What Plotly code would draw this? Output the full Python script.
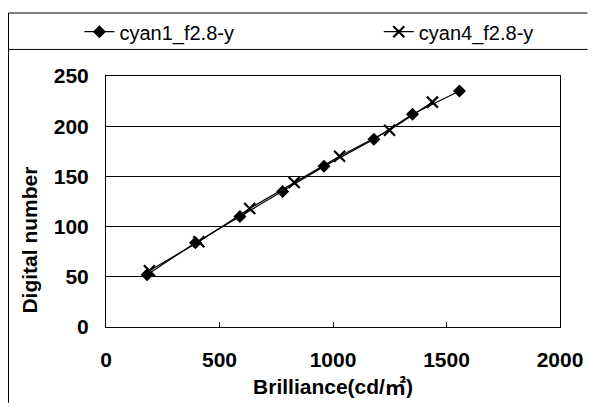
import plotly.graph_objects as go

s1_name = "cyan1_f2.8-y"
s1_x = [181, 394, 590, 778, 960, 1180, 1350, 1557]
s1_y = [52, 84, 110, 135, 160, 187, 212, 235]

s2_name = "cyan4_f2.8-y"
s2_x = [191, 409, 633, 829, 1029, 1249, 1438]
s2_y = [56, 85, 118, 144, 170, 196, 224]

x_ticks = [0, 500, 1000, 1500, 2000]
y_ticks = [0, 50, 100, 150, 200, 250]

FONT = "Liberation Sans, Arial, Noto Sans CJK JP, sans-serif"

fig = go.Figure()
fig.add_trace(go.Scatter(x=s1_x, y=s1_y, name=s1_name, mode="lines+markers",
                         legend="legend",
                         line=dict(color="black", width=1.2),
                         marker=dict(symbol="diamond", size=10, color="black")))
fig.add_trace(go.Scatter(x=s2_x, y=s2_y, name=s2_name, mode="lines+markers",
                         legend="legend2",
                         line=dict(color="black", width=1.2),
                         marker=dict(symbol="x-thin", size=11, color="black",
                                     line=dict(color="black", width=2.2))))

W, H = 595, 407
L, R, T, B = 106, 28, 75, 77
pw, ph = W - L - R, H - T - B

def px(x):
    return (x - L) / pw

def py(y):
    return (H - B - y) / ph

shapes = [
    dict(type="line", xref="paper", yref="paper", x0=px(7), x1=px(W), y0=py(11), y1=py(11),
         line=dict(color="black", width=1)),
    dict(type="line", xref="paper", yref="paper", x0=px(7), x1=px(W), y0=py(48), y1=py(48),
         line=dict(color="black", width=1)),
    dict(type="line", xref="paper", yref="paper", x0=px(7), x1=px(7), y0=py(11), y1=py(H),
         line=dict(color="black", width=1)),
]

annotations = [
    dict(text="Digital number", xref="paper", yref="paper", x=px(28), y=py(242),
         xanchor="center", yanchor="middle", textangle=-90, showarrow=False,
         font=dict(size=21, family=FONT, weight="bold", color="black")),
]

leg_common = dict(orientation="h", xanchor="left", yanchor="middle",
                  font=dict(size=20, family=FONT, color="black"),
                  bgcolor="rgba(0,0,0,0)", borderwidth=0)

fig.update_layout(
    width=W, height=H,
    margin=dict(l=L, r=R, t=T, b=B),
    paper_bgcolor="white", plot_bgcolor="white",
    font=dict(family=FONT, color="black", size=20),
    showlegend=True,
    legend=dict(x=px(79), y=py(30), **leg_common),
    legend2=dict(x=px(383), y=py(30), **leg_common),
    shapes=shapes,
    annotations=annotations,
    xaxis=dict(range=[0, 2000], tickvals=x_ticks, ticktext=[str(v) for v in x_ticks],
               showgrid=False, zeroline=False, showline=True, linecolor="black", linewidth=1,
               mirror=True, ticks="inside", ticklen=5, tickcolor="black",
               ticklabelstandoff=14,
               tickfont=dict(size=21, family=FONT, weight="bold"),
               title=dict(text="Brilliance(cd/㎡)", font=dict(size=21, family=FONT, weight="bold"),
                          standoff=9)),
    yaxis=dict(range=[0, 250], tickvals=y_ticks, ticktext=[str(v) for v in y_ticks],
               showgrid=True, gridcolor="black", gridwidth=1, zeroline=False,
               showline=True, linecolor="black", linewidth=1, mirror=True,
               ticks="", ticklabelstandoff=12,
               tickfont=dict(size=21, family=FONT, weight="bold")),
)

fig.write_html("out.html", config={"displayModeBar": False},
               post_script="document.body.style.margin='0';")
